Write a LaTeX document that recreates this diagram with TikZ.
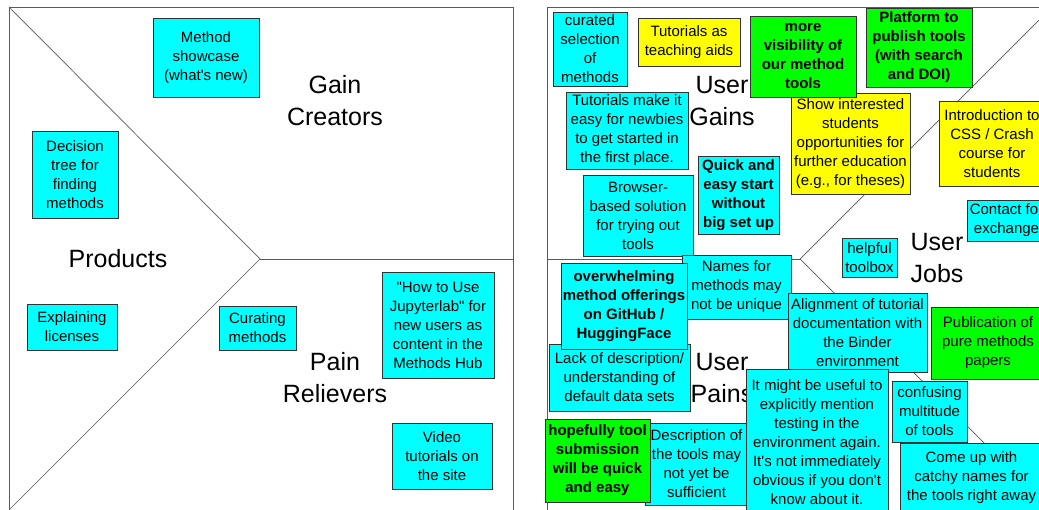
\documentclass[tikz,border=0pt]{standalone}
\usepackage{fontspec}
\setmainfont{Liberation Sans}[Ligatures=TeXOff]
\usepackage{xcolor}
\usepackage{tikz}
\definecolor{noteCyan}{RGB}{0,255,255}
\definecolor{noteYellow}{RGB}{255,255,0}
\definecolor{noteGreen}{RGB}{0,255,0}
\definecolor{noteBorder}{RGB}{51,51,51}
\definecolor{canvasGray}{RGB}{90,90,90}
\newcommand{\notefont}{\fontsize{15}{19}\selectfont}
\newcommand{\zonefont}{\fontsize{25}{32}\selectfont}

\begin{document}
\begin{tikzpicture}[x=1pt,y=-1pt,
  note/.style={draw=noteBorder, line width=0.8pt, inner sep=0pt, align=center, font=\notefont},
  cyannote/.style={note, fill=noteCyan},
  yellownote/.style={note, fill=noteYellow},
  greennote/.style={note, fill=noteGreen},
  zone/.style={align=center, font=\zonefont}]
\useasboundingbox (0,0) rectangle (1039,510);
\clip (0,0) rectangle (1039,510);
\fill[white] (0,0) rectangle (1039,510);
% product side
\draw[canvasGray, line width=0.9pt] (9,7) rectangle (513,530);
\draw[canvasGray, line width=0.7pt] (9,7) -- (260,259) -- (9,510);
\draw[canvasGray, line width=0.9pt] (260,259) -- (513,259);
\node[zone] (gaincreators) at (335,101) {Gain\\Creators};
\node[zone] (products) at (118,259) {Products};
\node[zone] (painrelievers) at (335,378) {Pain\\Relievers};
\node[cyannote, minimum width=106pt, minimum height=79pt] (showcase) at (206,57.5) {Method\\showcase\\(what's new)};
\node[cyannote, minimum width=86pt, minimum height=87pt] (decisiontree) at (75,174.5) {Decision\\tree for\\finding\\methods};
\node[cyannote, minimum width=90pt, minimum height=46pt] (licenses) at (72,327) {Explaining\\licenses};
\node[cyannote, minimum width=77pt, minimum height=44pt] (curating) at (257.5,328) {Curating\\methods};
\node[cyannote, minimum width=112pt, minimum height=106pt] (jupyterlab) at (438,325) {"How to Use\\Jupyterlab" for\\new users as\\content in the\\Methods Hub};
\node[cyannote, minimum width=100pt, minimum height=66pt] (videos) at (442,456) {Video\\tutorials on\\the site};
% customer side
\draw[canvasGray, line width=0.9pt] (547,7) rectangle (1060,530);
\draw[canvasGray, line width=0.7pt] (1052,7) -- (800,259) -- (1051,510);
\draw[canvasGray, line width=0.9pt] (547,259) -- (800,259);
\node[zone] (usergains) at (722,101) {User\\Gains};
\node[zone] (userjobs) at (937,258) {User\\Jobs};
\node[zone] (userpains) at (722,378) {User\\Pains};
% gains
\node[cyannote, minimum width=74pt, minimum height=74pt] (curated) at (590,49) {curated\\selection\\of\\methods};
\node[yellownote, minimum width=102pt, minimum height=48pt] (teaching) at (689,42) {Tutorials as\\teaching aids};
\node[yellownote, minimum width=119pt, minimum height=101pt] (students) at (850.5,143.5) {Show interested\\students\\opportunities for\\further education\\(e.g., for theses)};
\node[greennote, minimum width=106pt, minimum height=81pt, font=\notefont\bfseries] (visibility) at (803,56.5) {more\\visibility of\\our method\\tools};
\node[greennote, minimum width=106pt, minimum height=79pt, font=\notefont\bfseries] (platform) at (919,47.5) {Platform to\\publish tools\\(with search\\and DOI)};
\node[cyannote, minimum width=122pt, minimum height=77pt] (newbies) at (627,130.5) {Tutorials make it\\easy for newbies\\to get started in\\the first place.};
\node[cyannote, minimum width=110pt, minimum height=81pt] (browser) at (638,215.5) {Browser-\\based solution\\for trying out\\tools};
\node[cyannote, minimum width=81pt, minimum height=78pt, font=\notefont\bfseries] (quickstart) at (738.5,195) {Quick and\\easy start\\without\\big set up};
% jobs
\node[yellownote, minimum width=106pt, minimum height=85pt] (crashcourse) at (992,143.5) {Introduction to\\CSS / Crash\\course for\\students};
\node[cyannote, minimum width=79pt, minimum height=41pt] (contact) at (1006.5,220.5) {Contact for\\exchange};
\node[cyannote, minimum width=55pt, minimum height=39pt] (toolbox) at (869.5,257.5) {helpful\\toolbox};
\node[greennote, minimum width=114pt, minimum height=72pt] (publication) at (988,343) {Publication of\\pure methods\\papers};
% pains
\node[cyannote, minimum width=109pt, minimum height=64pt] (names) at (736.5,287) {Names for\\methods may\\not be unique};
\node[cyannote, minimum width=141pt, minimum height=67pt] (lackdesc) at (619.5,377.5) {Lack of description/\\understanding of\\default data sets};
\node[cyannote, minimum width=126pt, minimum height=86pt, font=\notefont\bfseries] (overwhelming) at (624,306) {overwhelming\\method offerings\\on GitHub /\\HuggingFace};
\node[cyannote, minimum width=139pt, minimum height=79pt] (alignment) at (857.5,332.5) {Alignment of tutorial\\documentation with\\the Binder\\environment};
\node[cyannote, minimum width=103pt, minimum height=82pt] (toolsdesc) at (696.5,464) {Description of\\the tools may\\not yet be\\sufficient};
\node[greennote, minimum width=105pt, minimum height=83pt, font=\notefont\bfseries] (submission) at (597.5,460.5) {hopefully tool\\submission\\will be quick\\and easy};
\node[cyannote, minimum width=142pt, minimum height=146pt] (testing) at (817,442) {It might be useful to\\explicitly mention\\testing in the\\environment again.\\It's not immediately\\obvious if you don't\\know about it.};
\node[cyannote, minimum width=75pt, minimum height=61pt] (confusing) at (929.5,411.5) {confusing\\multitude\\of tools};
\node[cyannote, minimum width=143pt, minimum height=70pt] (catchy) at (971.5,478) {Come up with\\catchy names for\\the tools right away};
\end{tikzpicture}
\end{document}
